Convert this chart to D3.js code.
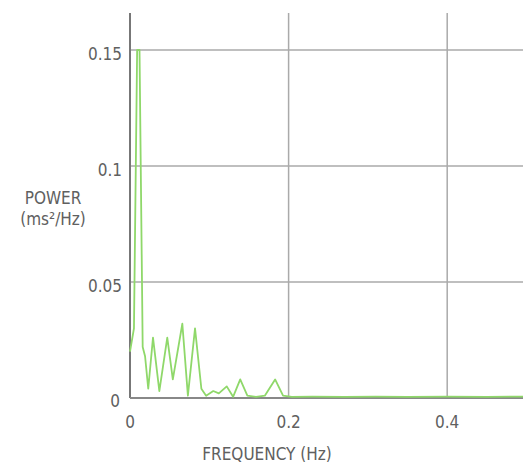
<!DOCTYPE html>
<html>
<head>
<meta charset="utf-8">
<script src="https://cdn.jsdelivr.net/npm/d3@7"></script>
<style>
  body { margin: 0; background: #fff; }
  text { font-family: "DejaVu Sans Condensed", "DejaVu Sans", sans-serif; font-stretch: condensed; fill: #606060; }
</style>
</head>
<body>
<div id="chart"></div>
<script>
const width = 523,
  height = 468,
  margin = { top: 13, bottom: 70, left: 130, right: 0 };

// frequency (Hz) and power (ms²/Hz)
const freq = [0, 0.005, 0.009, 0.012, 0.016, 0.019, 0.023, 0.029, 0.037, 0.047, 0.054,
  0.066, 0.073, 0.082, 0.090, 0.096, 0.105, 0.112, 0.122, 0.130, 0.139, 0.148,
  0.159, 0.170, 0.183, 0.193, 0.204, 0.23, 0.27, 0.31, 0.35, 0.40, 0.45, 0.50];
const power = [0.02, 0.03, 0.15, 0.15, 0.022, 0.018, 0.004, 0.026, 0.003, 0.026, 0.008,
  0.032, 0.001, 0.030, 0.004, 0.001, 0.003, 0.002, 0.005, 0.0005, 0.008, 0.001,
  0.0005, 0.001, 0.008, 0.001, 0.0005, 0.0006, 0.0005, 0.0006, 0.0005, 0.0006, 0.0005, 0.0006];

const xTicks = [0, 0.2, 0.4];
const yTicks = [0, 0.05, 0.1, 0.15];

const data = freq.map((f, i) => ({ f: f, p: power[i] }));

const svg = d3.select("#chart")
  .append("svg")
  .attr("width", width)
  .attr("height", height);

const xScale = d3.scaleLinear()
  .domain([0, 0.5])
  .range([margin.left, margin.left + 0.5 * 793]);

const yScale = d3.scaleLinear()
  .domain([0, 0.15])
  .range([398, 50]);

// grid
svg.append("g")
  .selectAll("line")
  .data(yTicks.filter(d => d > 0))
  .join("line")
  .attr("x1", margin.left)
  .attr("x2", width)
  .attr("y1", d => yScale(d))
  .attr("y2", d => yScale(d))
  .attr("stroke", "#aaa")
  .attr("stroke-width", 1.5);

svg.append("g")
  .selectAll("line")
  .data(xTicks.filter(d => d > 0))
  .join("line")
  .attr("x1", d => xScale(d))
  .attr("x2", d => xScale(d))
  .attr("y1", margin.top)
  .attr("y2", yScale(0))
  .attr("stroke", "#aaa")
  .attr("stroke-width", 1.5);

// axes lines
svg.append("line")
  .attr("x1", margin.left).attr("x2", margin.left)
  .attr("y1", margin.top).attr("y2", yScale(0))
  .attr("stroke", "#777").attr("stroke-width", 2);

svg.append("line")
  .attr("x1", margin.left).attr("x2", width)
  .attr("y1", yScale(0)).attr("y2", yScale(0))
  .attr("stroke", "#888").attr("stroke-width", 2);

// tick labels
svg.append("g")
  .selectAll("text")
  .data(yTicks)
  .join("text")
  .attr("x", d => d === 0 ? 120 : 122)
  .attr("y", d => yScale(d) + (d === 0 ? 9 : 10))
  .attr("text-anchor", "end")
  .attr("font-size", 17)
  .text(d => d);

svg.append("g")
  .selectAll("text")
  .data(xTicks)
  .join("text")
  .attr("x", d => xScale(d))
  .attr("y", 428)
  .attr("text-anchor", "middle")
  .attr("font-size", 17)
  .text(d => d);

// axis titles
svg.append("text")
  .attr("x", 267)
  .attr("y", 460)
  .attr("text-anchor", "middle")
  .attr("font-size", 17)
  .text("FREQUENCY (Hz)");

svg.append("text")
  .attr("x", 53)
  .attr("y", 204)
  .attr("text-anchor", "middle")
  .attr("font-size", 17)
  .text("POWER");

svg.append("text")
  .attr("x", 53)
  .attr("y", 225)
  .attr("text-anchor", "middle")
  .attr("font-size", 17)
  .text("(ms²/Hz)");

// spectrum
const line = d3.line()
  .x(d => xScale(d.f))
  .y(d => yScale(d.p));

svg.append("path")
  .datum(data)
  .attr("fill", "none")
  .attr("stroke", "#8fd86a")
  .attr("stroke-width", 1.8)
  .attr("stroke-linejoin", "round")
  .attr("d", line);
</script>
</body>
</html>
